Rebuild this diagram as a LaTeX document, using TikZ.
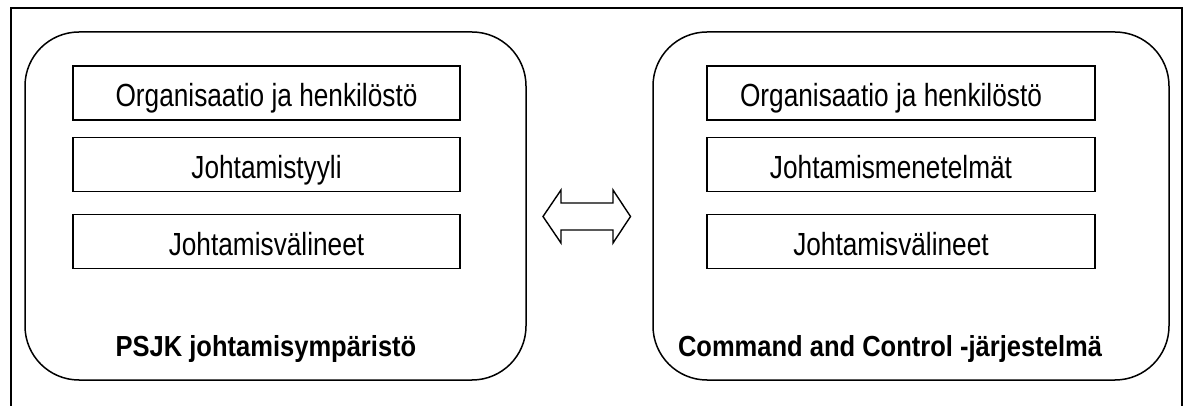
\documentclass[tikz,border=0pt]{standalone}
\usepackage{fontspec}
\setmainfont{Liberation Sans}
\newfontfamily\partfont[FakeStretch=0.82]{Liberation Sans}
\newfontfamily\titlefont[FakeStretch=0.88]{Liberation Sans}
\usepackage{tikz}
\usetikzlibrary{positioning}

\tikzset{
  frame/.style={line width=1.8pt},
  env/.style={draw, line width=1.5pt, rounded corners=54pt, minimum height=348pt, inner sep=0pt},
  part/.style={draw, line width=1.4pt, minimum width=387pt, minimum height=54pt, inner sep=0pt,
    text height=28pt, text depth=0pt, font=\partfont\fontsize{32}{37}\selectfont},
  partR/.style={part, minimum width=388pt, execute at end node={\hspace*{20pt}}},
  envtitle/.style={anchor=base, font=\titlefont\fontsize{29}{34}\selectfont\bfseries},
  swap/.style={line width=1.4pt, line join=miter},
}

\begin{document}
\begin{tikzpicture}[x=1pt, y=-1pt, thin]
    \useasboundingbox (0,0) rectangle (1187,406);
    \draw[frame] (11,430) -- (11,8) -- (1182,8) -- (1182,430);

      \node[env, minimum width=501pt] (envL) at (275.5,206) {};
      \node[part] (orgL) at (266.5,93) {Organisaatio ja henkilöstö};
      \node[part, below=16pt of orgL] (styleL) {Johtamistyyli};
      \node[part, below=22pt of styleL] (toolL) {Johtamisvälineet};
      \node[envtitle] (titleL) at (266,356) {PSJK johtamisympäristö};

      \node[env, minimum width=516pt] (envR) at (911,206) {};
      \node[partR] (orgR) at (901,93) {Organisaatio ja henkilöstö};
      \node[partR, below=16pt of orgR] (methR) {Johtamismenetelmät};
      \node[partR, below=22pt of methR] (toolR) {Johtamisvälineet};
      \node[envtitle] (titleR) at (890,356) {Command and Control -järjestelmä};

      \coordinate (m) at (586.5,216.5);
      \draw[swap] ([xshift=-43.5pt]m) -- ++(18,-26.5) -- ++(0,13) -- ++(52,0) -- ++(0,-13)
        -- ++(17.5,26.5) -- ++(-17.5,26.5) -- ++(0,-13) -- ++(-52,0) -- ++(0,13) -- cycle;
  \end{tikzpicture}
\end{document}
